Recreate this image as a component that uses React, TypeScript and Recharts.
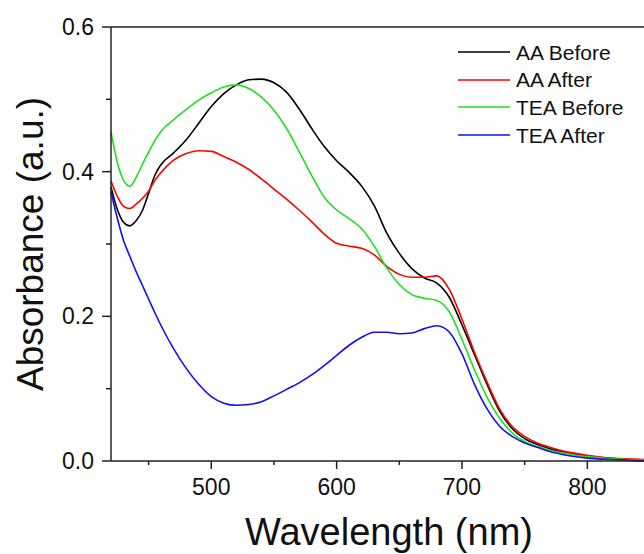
import { LineChart, Line, XAxis, YAxis, Legend, ReferenceLine, Label } from 'recharts'

// wavelength grid (nm)
const wavelengths = [
  420, 425, 430, 435, 440, 445, 450, 455, 460, 470, 480, 490, 500, 510, 520, 530,
  540, 550, 560, 570, 580, 590, 600, 610, 620, 630, 640, 650, 660, 670, 680, 690,
  700, 710, 720, 730, 740, 750, 760, 770, 780, 800, 820, 850,
]

const aaBefore = [
  0.379, 0.348, 0.33, 0.325, 0.332, 0.346, 0.37, 0.395, 0.41, 0.426, 0.444, 0.467,
  0.49, 0.508, 0.52, 0.527, 0.528, 0.523, 0.51, 0.487, 0.46, 0.435, 0.415, 0.399,
  0.38, 0.353, 0.315, 0.287, 0.266, 0.253, 0.246, 0.226, 0.188, 0.147, 0.106,
  0.069, 0.045, 0.031, 0.023, 0.017, 0.013, 0.007, 0.003, 0.0,
]

const aaAfter = [
  0.387, 0.366, 0.352, 0.349, 0.355, 0.363, 0.373, 0.388, 0.399, 0.416, 0.425,
  0.429, 0.428, 0.421, 0.413, 0.403, 0.39, 0.376, 0.362, 0.347, 0.331, 0.314, 0.301,
  0.297, 0.294, 0.285, 0.269, 0.258, 0.254, 0.254, 0.256, 0.237, 0.196, 0.15,
  0.109, 0.072, 0.048, 0.034, 0.025, 0.019, 0.014, 0.008, 0.004, 0.002,
]

const teaBefore = [
  0.455, 0.413, 0.388, 0.38, 0.392, 0.41, 0.427, 0.443, 0.456, 0.472, 0.486, 0.499,
  0.509, 0.517, 0.52, 0.515, 0.503, 0.485, 0.46, 0.428, 0.395, 0.365, 0.347,
  0.335, 0.321, 0.297, 0.267, 0.244, 0.23, 0.225, 0.222, 0.206, 0.168, 0.126,
  0.088, 0.059, 0.039, 0.027, 0.02, 0.015, 0.011, 0.006, 0.003, 0.001,
]

const teaAfter = [
  0.372, 0.336, 0.305, 0.283, 0.262, 0.243, 0.224, 0.205, 0.187, 0.155, 0.128,
  0.106, 0.089, 0.08, 0.077, 0.078, 0.082, 0.09, 0.099, 0.108, 0.119, 0.132, 0.146,
  0.16, 0.171, 0.178, 0.178, 0.176, 0.177, 0.183, 0.187, 0.178, 0.148, 0.106,
  0.072, 0.048, 0.034, 0.025, 0.019, 0.013, 0.009, 0.004, 0.002, 0.0,
]

const xTicks = [450, 500, 550, 600, 650, 700, 750, 800, 850]
const yTicks = [0, 0.1, 0.2, 0.3, 0.4, 0.5, 0.6]

const series = [
  { key: 'aaBefore', name: 'AA Before', color: '#000000' },
  { key: 'aaAfter', name: 'AA After', color: '#ff0000' },
  { key: 'teaBefore', name: 'TEA Before', color: '#1fe01f' },
  { key: 'teaAfter', name: 'TEA After', color: '#1010f0' },
]

const data = wavelengths.map((w, i) => ({
  w,
  aaBefore: aaBefore[i],
  aaAfter: aaAfter[i],
  teaBefore: teaBefore[i],
  teaAfter: teaAfter[i],
}))

const FONT = '"Liberation Sans", Arial, sans-serif'
const AXIS = '#222'

const XTick = ({ x, y, payload }: any) => {
  const major = payload.value % 100 === 0
  return (
    <g>
      <line x1={x} y1={y} x2={x} y2={y + (major ? 8 : 4)} stroke={AXIS} strokeWidth={1.5} />
      {major && (
        <text x={x} y={y + 34} textAnchor="middle" fontSize={23} fontFamily={FONT} fill="#111">
          {payload.value}
        </text>
      )}
    </g>
  )
}

const YTick = ({ x, y, payload }: any) => {
  const major = Math.round(payload.value * 10) % 2 === 0
  return (
    <g>
      <line x1={x - (major ? 9 : 5)} y1={y} x2={x} y2={y} stroke={AXIS} strokeWidth={1.5} />
      {major && (
        <text x={x - 17} y={y + 8} textAnchor="end" fontSize={23} fontFamily={FONT} fill="#111">
          {payload.value.toFixed(1)}
        </text>
      )}
    </g>
  )
}

const LegendBox = () => (
  <div style={{ fontFamily: FONT, fontSize: 21, color: '#111' }}>
    {series.map((s) => (
      <div key={s.key} style={{ display: 'flex', alignItems: 'center', height: 27.6 }}>
        <svg width={52} height={4} style={{ marginRight: 6 }}>
          <line x1={0} y1={2} x2={52} y2={2} stroke={s.color} strokeWidth={1.6} />
        </svg>
        <span style={{ lineHeight: 1 }}>{s.name}</span>
      </div>
    ))}
  </div>
)

export default function App() {
  return (
    <div
      style={{
        position: 'absolute',
        left: 0,
        top: 0,
        width: 644,
        height: 554,
        overflow: 'hidden',
        background: '#fff',
      }}
    >
      <LineChart width={660} height={554} data={data} margin={{ top: 27, right: 10, bottom: 53, left: 51 }}>
        <XAxis
          dataKey="w"
          type="number"
          domain={[420, 850]}
          ticks={xTicks}
          interval={0}
          height={40}
          tickSize={0}
          tickMargin={0}
          tickLine={false}
          axisLine={{ stroke: AXIS, strokeWidth: 1.5 }}
          tick={<XTick />}
        >
          <Label
            content={() => (
              <text x={389} y={545} textAnchor="middle" fontSize={38} fontFamily={FONT} fill="#111">
                Wavelength (nm)
              </text>
            )}
          />
        </XAxis>
        <YAxis
          type="number"
          domain={[0, 0.6]}
          ticks={yTicks}
          interval={0}
          width={60}
          tickSize={0}
          tickMargin={0}
          tickLine={false}
          axisLine={{ stroke: AXIS, strokeWidth: 1.5 }}
          tick={<YTick />}
        >
          <Label
            content={() => (
              <text
                x={43}
                y={244}
                transform="rotate(-90, 43, 244)"
                textAnchor="middle"
                fontSize={37}
                fontFamily={FONT}
                fill="#111"
              >
                Absorbance (a.u.)
              </text>
            )}
          />
        </YAxis>
        <ReferenceLine y={0.6} stroke={AXIS} strokeWidth={1.5} />
        <Legend
          layout="vertical"
          align="center"
          verticalAlign="middle"
          content={<LegendBox />}
          wrapperStyle={{ left: 458, top: 38.5, width: 186 }}
        />
        {series.map((s) => (
          <Line
            key={s.key}
            type="monotone"
            dataKey={s.key}
            name={s.name}
            stroke={s.color}
            strokeWidth={1.6}
            dot={false}
            activeDot={false}
            isAnimationActive={false}
          />
        ))}
      </LineChart>
    </div>
  )
}
